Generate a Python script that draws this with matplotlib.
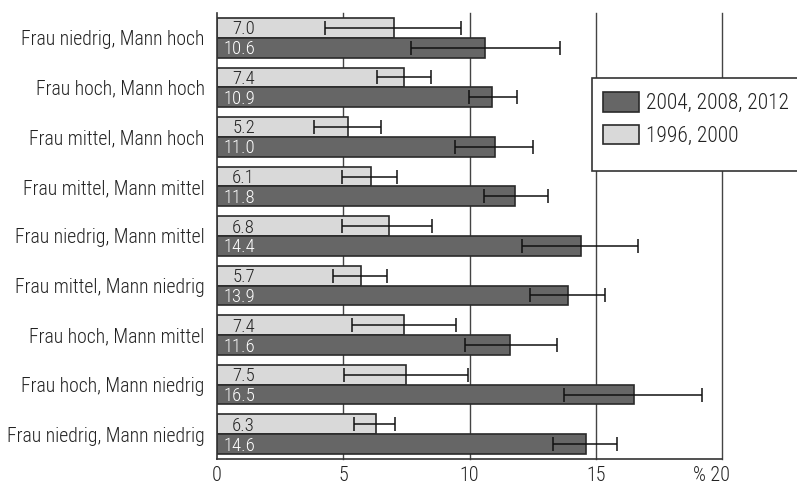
import matplotlib
matplotlib.use("Agg")
import matplotlib.pyplot as plt
import numpy as np
from matplotlib import font_manager as fm
from matplotlib.patches import Rectangle, Patch
from matplotlib.transforms import ScaledTranslation

categories = [
    "Frau niedrig, Mann hoch",
    "Frau hoch, Mann hoch",
    "Frau mittel, Mann hoch",
    "Frau mittel, Mann mittel",
    "Frau niedrig, Mann mittel",
    "Frau mittel, Mann niedrig",
    "Frau hoch, Mann mittel",
    "Frau hoch, Mann niedrig",
    "Frau niedrig, Mann niedrig",
]
early_values = [7.0, 7.4, 5.2, 6.1, 6.8, 5.7, 7.4, 7.5, 6.3]
early_low = [4.27, 6.34, 3.85, 4.97, 4.97, 4.59, 5.33, 5.01, 5.44]
early_high = [9.67, 8.48, 6.49, 7.13, 8.53, 6.73, 9.46, 9.96, 7.05]
late_values = [10.6, 10.9, 11.0, 11.8, 14.4, 13.9, 11.6, 16.5, 14.6]
late_low = [7.68, 9.99, 9.44, 10.57, 12.08, 12.40, 9.82, 13.74, 13.29]
late_high = [13.6, 11.87, 12.53, 13.11, 16.68, 15.38, 13.45, 19.22, 15.83]
series_labels = ["2004, 2008, 2012", "1996, 2000"]
xtick_values = [0, 5, 10, 15, 20]
xtick_labels = ["0", "5", "10", "15", "% 20"]

fonts = {}
for f in fm.fontManager.ttflist:
    fonts.setdefault(f.name, set()).add(f.weight)
family = "DejaVu Sans"
weight = "normal"
for cand in ["Open Sans Condensed", "Roboto Condensed", "Barlow Semi Condensed",
             "Asap Condensed", "Archivo Narrow", "Liberation Sans Narrow"]:
    if cand in fonts:
        ws = fonts[cand]
        if any(w in (300, "light") for w in ws):
            family, weight = cand, "light"
            break
        if any(w in (400, "normal", "regular") for w in ws):
            family, weight = cand, "normal"
            break
plt.rcParams["font.family"] = [family, "DejaVu Sans"]
plt.rcParams["font.weight"] = weight

W, H = 797, 487
fig = plt.figure(figsize=(W / 100, H / 100), dpi=100)
ax0, ax1, ayt, ayb = 217, 722, 13, 459
ax = fig.add_axes([ax0 / W, 1 - ayb / H, (ax1 - ax0) / W, (ayb - ayt) / H])

dark = "#666666"
light = "#d9d9d9"
edge = "#2a2a2a"
txtc = "#222222"

n = len(categories)
y = np.arange(n)
h = 0.4
ax.barh(y - h / 2, early_values, height=h, color=light, edgecolor=edge, linewidth=1.2, zorder=2)
ax.barh(y + h / 2, late_values, height=h, color=dark, edgecolor=edge, linewidth=1.2, zorder=2)

e_val = np.array(early_values)
l_val = np.array(late_values)
ax.errorbar(e_val, y - h / 2,
            xerr=[e_val - np.array(early_low), np.array(early_high) - e_val],
            fmt="none", ecolor="#111111", elinewidth=1.1, capsize=5, capthick=1.1, zorder=3)
ax.errorbar(l_val, y + h / 2,
            xerr=[l_val - np.array(late_low), np.array(late_high) - l_val],
            fmt="none", ecolor="#111111", elinewidth=1.1, capsize=5, capthick=1.1, zorder=3)

for i in range(n):
    ax.text(1.5, y[i] - h / 2 + 0.03, f"{early_values[i]:.1f}", ha="right", va="center",
            fontsize=13.5, color=txtc, zorder=4)
    ax.text(1.5, y[i] + h / 2 + 0.03, f"{late_values[i]:.1f}", ha="right", va="center",
            fontsize=13.5, color="white", zorder=4)

ax.set_ylim(n - 0.5, -0.5)
ax.set_xlim(0, 20)
ax.set_yticks(y)
ax.set_yticklabels(categories, fontsize=14.2, color=txtc)
ax.set_xticks(xtick_values)
ax.set_xticklabels(xtick_labels, fontsize=14.5, color=txtc)
ax.tick_params(axis="both", length=0)
ax.tick_params(axis="y", pad=9)
ax.tick_params(axis="x", pad=5)
last = ax.get_xticklabels()[-1]
last.set_transform(last.get_transform() + ScaledTranslation(-0.11, 0, fig.dpi_scale_trans))

for x in xtick_values[1:]:
    ax.axvline(x, color="#444444", linewidth=1.0, zorder=1, clip_on=False)

for s in ["top", "right"]:
    ax.spines[s].set_visible(False)
for s in ["left", "bottom"]:
    ax.spines[s].set_color("#333333")
    ax.spines[s].set_linewidth(1.2)
    ax.spines[s].set_zorder(5)

# legend frame
fig.patches.append(Rectangle((592 / W, 1 - 171 / H), (820 - 592) / W, 93 / H,
                             transform=fig.transFigure, facecolor="white",
                             edgecolor="#333333", linewidth=1.2, zorder=5))
lfs = 15.5
fpx = lfs * 100 / 72
handles = [Patch(facecolor=dark, edgecolor=edge, linewidth=1.2),
           Patch(facecolor=light, edgecolor=edge, linewidth=1.2)]
leg = fig.legend(handles, series_labels, loc="upper left",
                 bbox_to_anchor=(603 / W, 1 - 92 / H), frameon=False,
                 fontsize=lfs, borderpad=0, borderaxespad=0,
                 handlelength=36 / fpx, handleheight=22 / fpx,
                 labelspacing=0.5, handletextpad=7 / fpx)
for t in leg.get_texts():
    t.set_color(txtc)
leg.set_zorder(6)

fig.savefig("out.png", dpi=100)
